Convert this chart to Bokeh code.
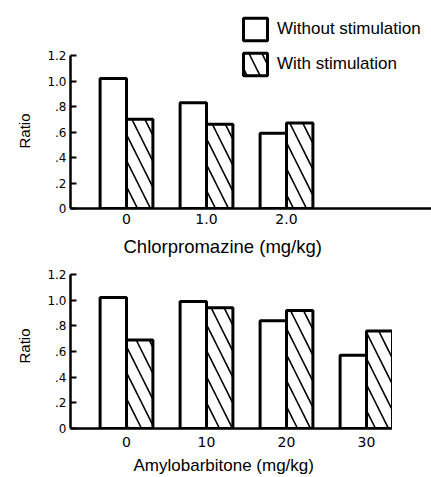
from bokeh.plotting import figure
from bokeh.models import FixedTicker, Title, Range1d
from bokeh.layouts import column
from bokeh.embed import file_html
from bokeh.resources import INLINE

# ---- data ----
chlor_doses = ["0", "1.0", "2.0"]
chlor_without = [1.02, 0.83, 0.59]
chlor_with = [0.70, 0.66, 0.67]

amylo_doses = ["0", "10", "20", "30"]
amylo_without = [1.02, 0.99, 0.84, 0.57]
amylo_with = [0.69, 0.94, 0.92, 0.76]

y_ticks = [0, 0.2, 0.4, 0.6, 0.8, 1.0, 1.2]
y_tick_labels = ["0", ".2", ".4", ".6", ".8", "1.0", "1.2"]

series_labels = ["Without stimulation", "With stimulation"]
y_title = "Ratio"
chlor_title = "Chlorpromazine (mg/kg)"
amylo_title = "Amylobarbitone (mg/kg)"

TICK_FONT = "'DejaVu Sans', sans-serif"
LABEL_FONT = "'Liberation Sans', Arial, sans-serif"

BAR_W = 0.33
PX_PER_UNIT_Y = 127.5


def make_panel(doses, without, with_, title_text, title_size, frame_w, frame_h,
               y_end, min_top, title_offset, ratio_offset, xlabel_standoff,
               title_standoff, legend=False):
    p = figure(frame_width=frame_w, frame_height=frame_h,
               x_range=Range1d(-0.7, -0.7 + frame_w / 80),
               y_range=Range1d(0, y_end),
               output_backend="svg", toolbar_location=None,
               min_border_left=70, min_border_right=0,
               min_border_top=min_top, min_border_bottom=0)
    xs = list(range(len(doses)))
    x_wo = [x - BAR_W / 2 for x in xs]
    x_w = [x + BAR_W / 2 for x in xs]
    kw_wo = {}
    kw_w = {}
    if legend:
        kw_wo["legend_label"] = series_labels[0]
        kw_w["legend_label"] = series_labels[1]
    p.vbar(x=x_wo, top=without, width=BAR_W, bottom=0,
           fill_color="white", line_color="black", line_width=3, **kw_wo)
    p.vbar(x=x_w, top=with_, width=BAR_W, bottom=0,
           fill_color="white", line_color="black", line_width=3,
           hatch_pattern="left_diagonal_line", hatch_color="black",
           hatch_scale=26, hatch_weight=1.6, **kw_w)

    p.outline_line_color = None
    p.xgrid.grid_line_color = None
    p.ygrid.grid_line_color = None
    p.background_fill_color = "white"
    p.border_fill_color = "white"

    # y axis
    ya = p.yaxis[0]
    ya.ticker = FixedTicker(ticks=y_ticks)
    ya.bounds = (y_ticks[0], y_ticks[-1])
    ya.major_label_overrides = {t: l for t, l in zip(y_ticks, y_tick_labels)}
    ya.minor_tick_line_color = None
    ya.major_tick_in = 6
    ya.major_tick_out = 0
    ya.major_tick_line_width = 2
    ya.axis_line_width = 2.5
    ya.major_label_standoff = 4
    ya.major_label_text_font = TICK_FONT
    ya.major_label_text_font_size = "12px"
    ya.major_label_text_color = "black"

    yt = Title(text=y_title, align="left", offset=ratio_offset,
               text_font=LABEL_FONT, text_font_size="15px",
               text_font_style="normal", text_color="black", standoff=24)
    p.add_layout(yt, "left")

    # x axis
    xa = p.xaxis[0]
    xa.ticker = FixedTicker(ticks=xs)
    xa.major_label_overrides = {i: d for i, d in enumerate(doses)}
    xa.minor_tick_line_color = None
    xa.major_tick_in = 0
    xa.major_tick_out = 0
    xa.axis_line_width = 2.5
    xa.major_label_standoff = xlabel_standoff
    xa.major_label_text_font = TICK_FONT
    xa.major_label_text_font_size = "14px"
    xa.major_label_text_color = "black"

    t = Title(text=title_text, align="left", offset=title_offset,
              text_font=LABEL_FONT, text_font_size=title_size,
              text_font_style="normal", text_color="black",
              standoff=title_standoff)
    p.add_layout(t, "below")

    if legend:
        lg = p.legend[0]
        lg.location = (170, 130)
        lg.orientation = "vertical"
        lg.glyph_width = 30
        lg.glyph_height = 28
        lg.label_height = 28
        lg.spacing = 7
        lg.padding = 0
        lg.margin = 0
        lg.label_standoff = 7
        lg.border_line_color = None
        lg.background_fill_alpha = 0
        lg.label_text_font = LABEL_FONT
        lg.label_text_font_size = "17px"
        lg.label_text_color = "black"
    return p


p1 = make_panel(chlor_doses, chlor_without, chlor_with, chlor_title, "18.5px",
                frame_w=361, frame_h=198, y_end=198 / PX_PER_UNIT_Y,
                min_top=10, title_offset=53, ratio_offset=60,
                xlabel_standoff=5, title_standoff=15, legend=True)
p2 = make_panel(amylo_doses, amylo_without, amylo_with, amylo_title, "17px",
                frame_w=322, frame_h=154, y_end=1.2,
                min_top=10, title_offset=63, ratio_offset=65,
                xlabel_standoff=8, title_standoff=8)

layout = column(p1, p2, spacing=0)
open("out.html", "w").write(file_html(layout, INLINE))
